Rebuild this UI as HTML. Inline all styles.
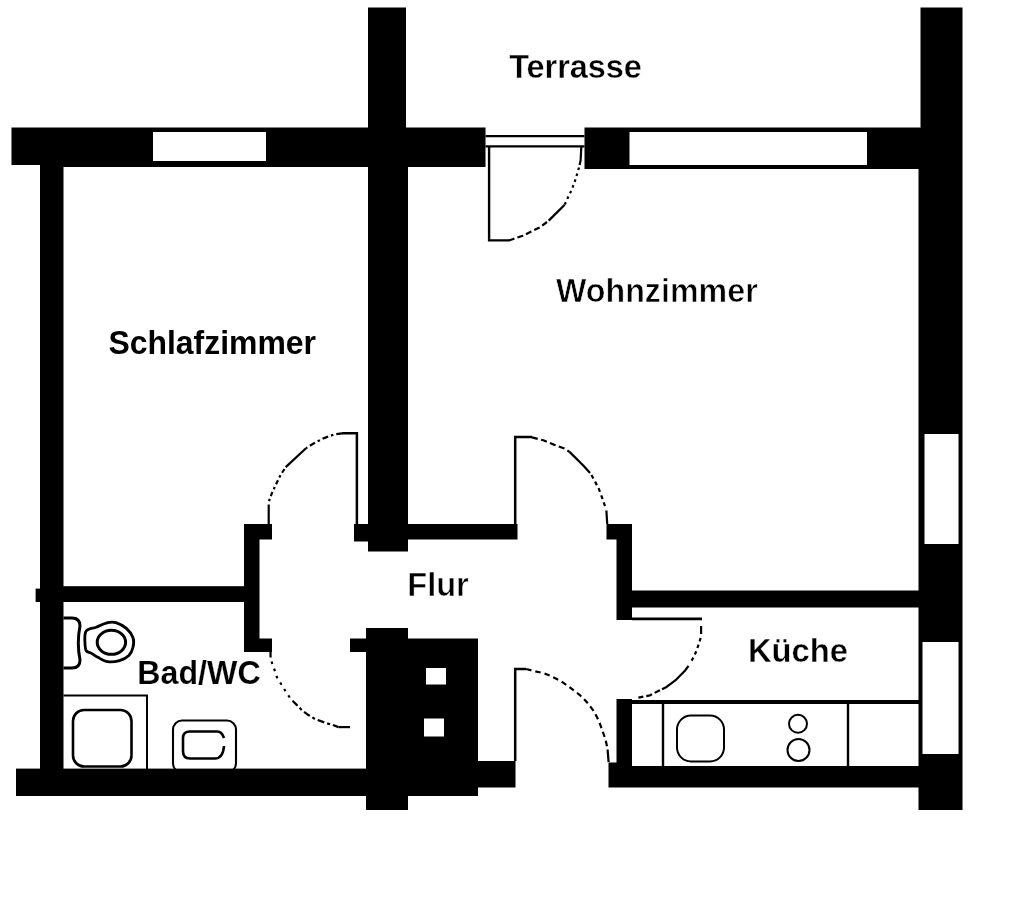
<!DOCTYPE html>
<html lang="de">
<head>
<meta charset="utf-8">
<title>Grundriss</title>
<style>
html,body{margin:0;padding:0;background:#fff;}
body{width:1024px;height:898px;overflow:hidden;}
svg{display:block;}
text{font-family:"Liberation Sans",sans-serif;font-weight:bold;font-size:32px;fill:#000;}
.w{fill:#000;}
.g{fill:#fff;}
.l{fill:none;stroke:#000;stroke-width:2;}
.d{fill:none;stroke:#000;stroke-width:2.2;stroke-dasharray:6 3.5;stroke-linejoin:round;}
</style>
</head>
<body>
<svg width="1024" height="898" viewBox="0 0 1024 898">
<defs>
<filter id="soft" x="0" y="0" width="1024" height="898" filterUnits="userSpaceOnUse"><feGaussianBlur stdDeviation="0.45"/></filter>
</defs>
<rect width="1024" height="898" fill="#fff"/>
<g filter="url(#soft)">
<!-- walls -->
<g class="w">
<rect x="11.5" y="127.5" width="474" height="37.5"/>
<rect x="63" y="165" width="422.5" height="2"/>
<rect x="368" y="7.5" width="38" height="120.5"/>
<rect x="368" y="128" width="40" height="423.5"/>
<rect x="584.5" y="127.5" width="336" height="41.5"/>
<rect x="920.5" y="7.5" width="42" height="120.5"/>
<rect x="918.5" y="128" width="44" height="682"/>
<rect x="40" y="160" width="23.5" height="615"/>
<rect x="40" y="586.2" width="206" height="15.8"/>
<rect x="35.6" y="588.6" width="6" height="13.4"/>
<rect x="244" y="524" width="15.5" height="128"/>
<rect x="244" y="524" width="28" height="15.5"/>
<rect x="244" y="638.5" width="28" height="13.5"/>
<rect x="354" y="524" width="20" height="17.5"/>
<rect x="400" y="524" width="117.5" height="15.5"/>
<rect x="606.5" y="524" width="25.5" height="15.5"/>
<rect x="616.5" y="524" width="15.5" height="96"/>
<rect x="625" y="590.5" width="300" height="17"/>
<rect x="366" y="628" width="42" height="182"/>
<rect x="366" y="638.5" width="112" height="157.5"/>
<rect x="350" y="638.5" width="20" height="13.5"/>
<rect x="16" y="768.6" width="360" height="27.4"/>
<rect x="470" y="761" width="45.5" height="26.5"/>
<rect x="608.5" y="766" width="315" height="21.5"/>
<rect x="608.5" y="762.5" width="12" height="3.5"/>
<rect x="616.5" y="699" width="15.5" height="70"/>
<rect x="625" y="700" width="295" height="4"/>
</g>
<!-- window openings -->
<g class="g">
<rect x="153" y="132" width="113" height="29"/>
<rect x="629.5" y="132" width="237.5" height="33"/>
<rect x="924.5" y="434" width="34" height="110"/>
<rect x="922.5" y="642" width="36" height="112"/>
<rect x="426" y="668" width="20" height="16.5"/>
<rect x="424" y="718.5" width="20" height="18"/>
</g>
<!-- terrace door -->
<path class="l" d="M485.5 136.2H584.5M485.5 146.4H584.5" style="stroke-width:2.3"/>
<path class="l" d="M489.1 146V240.4H510" style="stroke-width:2.4"/>
<path class="d" d="M581.3 147.0 L580.6 160.5 L579.6 165.0" style="stroke-dasharray:none"/>
<path class="d" d="M579.0 167.5 L575.5 179.4 L571.9 189.5 L567.6 198.2 L564.7 204.7" style="stroke-dasharray:2.6 3.6"/>
<path class="d" d="M564.7 204.7 L548.7 220.6" style="stroke-dasharray:none"/>
<path class="d" d="M547.0 222.0 L540.1 227.2 L529.9 232.2 L522.7 235.8 L514.0 238.7 L509.6 240.2" style="stroke-dasharray:6 3.2"/>
<!-- bedroom door -->
<path class="l" d="M356.9 524V433.2H342" style="stroke-width:2.5"/>
<path class="d" d="M342.2 433.3 L334.2 434.5 L324.1 438.1 L315.4 442.4 L306.0 448.2" style="stroke-dasharray:6 3 2.5 3"/>
<path class="d" d="M306.0 448.2 L285.7 467.1" style="stroke-dasharray:none"/>
<path class="d" d="M284.5 469.0 L280.6 475.0 L276.3 483.7 L271.9 493.1 L269.0 501.1" style="stroke-dasharray:4.5 3 2.5 3"/>
<path class="d" d="M268.7 504.5 L268.7 524.0" style="stroke-dasharray:none"/>
<!-- living room door -->
<path class="l" d="M515.2 524V436.9H532" style="stroke-width:2.5"/>
<path class="d" d="M531.9 437.4 L543.4 440.3 L553.6 444.6 L563.7 448.2 L569.5 451.9" style="stroke-dasharray:6 3.5"/>
<path class="d" d="M569.5 451.9 L584.0 466.3 L590.0 473.0" style="stroke-dasharray:none"/>
<path class="d" d="M591.5 475.0 L598.5 488.1 L602.8 499.6 L605.7 508.3" style="stroke-dasharray:4 3.5"/>
<path class="d" d="M606.4 510.5 L607.2 524.0" style="stroke-dasharray:none"/>
<!-- kitchen door -->
<path class="l" d="M632 618.9H702" style="stroke-width:2.6"/>
<path class="d" d="M701.1 620.0 L701.1 634.0" style="stroke-dasharray:0 6 8 0"/>
<path class="d" d="M700.6 638.0 L699.2 642.7 L697.0 649.2 L694.1 656.5 L689.8 663.7" style="stroke-dasharray:3.5 3.5"/>
<path class="d" d="M688.5 665.8 L685.4 670.2 L675.3 680.4 L666.6 686.9 L662.0 689.2" style="stroke-dasharray:none"/>
<path class="d" d="M660.0 690.2 L657.9 691.2 L650.0 695.3 L638.4 697.7" style="stroke-dasharray:6 3"/>
<!-- entrance door -->
<path class="l" d="M515.2 761V669.1H526" style="stroke-width:2.5"/>
<path class="d" d="M526.1 669.0 L534.8 671.2 L543.4 673.1 L550.7 676.0 L560.8 681.1 L568.1 686.1 L579.6 694.8 L586.9 702.1 L594.1 711.5 L599.2 721.6 L602.8 731.7 L605.7 740.4 L607.4 748.0" style="stroke-dasharray:5.5 4"/>
<path class="d" d="M607.6 749.5 L608.6 762.2" style="stroke-dasharray:none"/>
<!-- bath door -->
<path class="d" d="M270.5 652.0 L270.6 657.5" style="stroke-dasharray:none"/>
<path class="d" d="M271.6 661.5 L272.6 664.9 L274.8 670.7 L276.9 677.2 L282.7 686.6 L286.3 692.4 L290.7 698.9" style="stroke-dasharray:2.6 5"/>
<path class="d" d="M292.5 700.8 L297.2 705.4 L302.3 710.5 L308.1 714.8 L315.3 719.2 L325.4 722.8 L332.7 725.0 L338.5 727.1" style="stroke-dasharray:7 3 3 3"/>
<path class="d" d="M338.5 727.1 L350.0 727.1" style="stroke-dasharray:none"/>
<!-- kitchen counter -->
<path class="l" d="M663 703V767M848 703V767" style="stroke-width:2.4"/>
<rect class="l" x="677" y="715.5" width="47" height="46" rx="14" ry="14"/>
<circle class="l" cx="798" cy="723.8" r="9"/>
<circle class="l" cx="798.5" cy="750" r="11"/>
<!-- bath fixtures -->
<path class="l" d="M63.5 695.5H147V770" style="stroke-width:2"/>
<rect class="l" x="73" y="710" width="58.5" height="56.5" rx="11" ry="11" style="stroke-width:2.6"/>
<rect class="l" x="173" y="720.5" width="63" height="52" rx="9" ry="9" style="stroke-width:2.1"/>
<path class="l" d="M224 738Q222 731.5 217 731.5H190Q183 731.5 183 738V751Q183 758.5 190 758.5H215Q223 758.5 224 746" style="stroke-width:2.6"/>
<path class="l" d="M63.5 618H72Q80 618 80 626C78 636 78 650 80 660Q80 668 72 668H63.5" style="stroke-width:3"/>
<path class="l" d="M85.7 631.8 C87.2 628.4 92.7 628.6 96.0 627.3 C99.3 625.9 104.7 623.3 107.7 622.6 C110.7 621.9 113.1 621.7 115.9 622.6 C118.7 623.5 123.9 626.1 126.4 628.4 C129.0 630.7 132.0 635.0 133.0 637.8 C134.0 640.6 133.7 644.5 133.0 647.2 C132.4 649.8 130.9 653.4 128.9 655.4 C126.8 657.4 122.6 659.7 119.4 660.6 C116.2 661.6 110.9 662.2 107.7 661.7 C104.5 661.3 100.8 658.9 98.4 657.6 C95.9 656.4 93.1 654.3 91.2 653.1 C89.3 651.9 86.6 652.8 85.7 649.6 C84.9 646.4 84.2 635.1 85.7 631.8Z" style="stroke-width:2.8;stroke-linejoin:round"/>
<ellipse class="l" cx="111.4" cy="642.3" rx="14.2" ry="12" style="stroke-width:3"/>
<!-- labels -->
<text transform="translate(509.19 77.60) scale(1.0128 1.0600)" stroke="#fff" stroke-width="0.35">Terrasse</text>
<text transform="translate(108.40 353.60) scale(0.9979 1.0600)" stroke="#fff" stroke-width="0">Schlafzimmer</text>
<text transform="translate(556.00 302.00) scale(1.0070 1.0600)" stroke="#fff" stroke-width="0.6">Wohnzimmer</text>
<text transform="translate(407.33 595.60) scale(1.0170 1.0600)" stroke="#fff" stroke-width="0.5">Flur</text>
<text transform="translate(747.97 661.80) scale(1.0220 1.0600)" stroke="#fff" stroke-width="0.35">Küche</text>
<text transform="translate(137.34 683.90) scale(1.0052 1.0600)" stroke="#fff" stroke-width="0.15">Bad/WC</text>
</g>
</svg>
</body>
</html>
